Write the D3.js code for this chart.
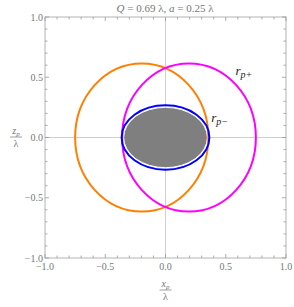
<!DOCTYPE html>
<html>
<head>
<meta charset="utf-8">
<script src="https://cdn.jsdelivr.net/npm/d3@7"></script>
<style>
  body { margin: 0; background: #fff; }
  text { font-family: "Liberation Serif", "DejaVu Serif", serif; }
</style>
</head>
<body>
<svg id="chart" width="294" height="307"></svg>
<script>
// curves: centre and half-widths in units of lambda
var curveNames  = ["rp-", "rp+", "orange"];
var curveColors = ["#0000ff", "#ff00ff", "#ff8000"];
var centerX     = [0.0, 0.195, -0.197];
var centerZ     = [0.0, 0.0, 0.0];
var radiusX     = [0.364, 0.555, 0.553];
var radiusZ     = [0.267, 0.615, 0.615];

var majorTicks  = [-1.0, -0.5, 0.0, 0.5, 1.0];
var tickLabels  = ["\u22121.0", "\u22120.5", "0.0", "0.5", "1.0"];
var minorTicks  = d3.range(-10, 11).map(function(d){ return d / 10; });

var svg = d3.select("#chart");

// plot box (window.top is reserved, so use other names)
var pLeft = 45, pRight = 286, pTop = 17, pBottom = 258;
var x = d3.scaleLinear().domain([-1, 1]).range([pLeft, pRight]);
var y = d3.scaleLinear().domain([-1, 1]).range([pBottom, pTop]);

var gray = "#999";

// center lines
svg.append("line")
   .attr("x1", x(0)).attr("x2", x(0))
   .attr("y1", pTop).attr("y2", pBottom)
   .attr("stroke", "#cfcfcf").attr("stroke-width", 1);
svg.append("line")
   .attr("x1", pLeft).attr("x2", pRight)
   .attr("y1", y(0)).attr("y2", y(0))
   .attr("stroke", "#cfcfcf").attr("stroke-width", 1);

// filled inner region
svg.append("ellipse")
   .attr("cx", x(centerX[0])).attr("cy", y(centerZ[0]))
   .attr("rx", x(radiusX[0]) - x(0) - 2)
   .attr("ry", y(0) - y(radiusZ[0]) - 2)
   .attr("fill", "#7f7f7f")
   .attr("stroke", "#fff").attr("stroke-width", 1);

// the curves, drawn back to front
var order = [2, 1, 0];
svg.selectAll("ellipse.curve").data(order)
   .enter().append("ellipse")
   .attr("class", "curve")
   .attr("cx", function(i){ return x(centerX[i]); })
   .attr("cy", function(i){ return y(centerZ[i]); })
   .attr("rx", function(i){ return x(radiusX[i]) - x(0); })
   .attr("ry", function(i){ return y(0) - y(radiusZ[i]); })
   .attr("fill", "none")
   .attr("stroke", function(i){ return curveColors[i]; })
   .attr("stroke-width", 2);

// frame
svg.append("rect")
   .attr("x", pLeft).attr("y", pTop)
   .attr("width", pRight - pLeft).attr("height", pBottom - pTop)
   .attr("fill", "none").attr("stroke", "#b3b3b3").attr("stroke-width", 1);

// ticks on all four sides, pointing inward
function tickLen(v){
  return majorTicks.some(function(m){ return Math.abs(m - v) < 1e-9; }) ? 4 : 2.5;
}
var ticks = svg.append("g").attr("stroke", gray).attr("stroke-width", 0.8);
minorTicks.forEach(function(v){
  var len = tickLen(v);
  ticks.append("line").attr("x1", x(v)).attr("x2", x(v)).attr("y1", pBottom).attr("y2", pBottom - len);
  ticks.append("line").attr("x1", x(v)).attr("x2", x(v)).attr("y1", pTop).attr("y2", pTop + len);
  ticks.append("line").attr("y1", y(v)).attr("y2", y(v)).attr("x1", pLeft).attr("x2", pLeft + len);
  ticks.append("line").attr("y1", y(v)).attr("y2", y(v)).attr("x1", pRight).attr("x2", pRight - len);
});

// tick labels
svg.selectAll("text.xt").data(majorTicks)
   .enter().append("text")
   .attr("class", "xt")
   .attr("x", function(d){ return x(d); })
   .attr("y", pBottom + 12)
   .attr("text-anchor", "middle")
   .attr("font-size", 10).attr("fill", "#777")
   .text(function(d, i){ return tickLabels[i]; });

svg.selectAll("text.yt").data(majorTicks)
   .enter().append("text")
   .attr("class", "yt")
   .attr("x", pLeft - 2)
   .attr("y", function(d){ return y(d) + 3.5; })
   .attr("text-anchor", "end")
   .attr("font-size", 10).attr("fill", "#777")
   .text(function(d, i){ return tickLabels[i]; });

// title
var title = svg.append("text")
   .attr("x", 165).attr("y", 12)
   .attr("text-anchor", "middle")
   .attr("font-size", 11).attr("fill", "#777");
title.append("tspan").attr("font-style", "italic").text("Q");
title.append("tspan").text(" = 0.69 \u03bb, ");
title.append("tspan").attr("font-style", "italic").text("a");
title.append("tspan").text(" = 0.25 \u03bb");

// axis labels as fractions
function fraction(cx, cy, letter){
  var g = svg.append("g").attr("fill", "#777");
  var t = g.append("text").attr("x", cx).attr("y", cy - 3)
           .attr("text-anchor", "middle").attr("font-size", 10);
  t.append("tspan").attr("font-style", "italic").text(letter);
  t.append("tspan").attr("font-style", "italic").attr("font-size", 7).attr("dy", 2).text("p");
  g.append("line").attr("x1", cx - 6).attr("x2", cx + 6)
   .attr("y1", cy).attr("y2", cy)
   .attr("stroke", "#777").attr("stroke-width", 0.7);
  g.append("text").attr("x", cx).attr("y", cy + 10)
   .attr("text-anchor", "middle").attr("font-size", 10).text("\u03bb");
}
fraction(x(0), 290, "x");
fraction(16, 137, "z");

// curve labels
function curveLabel(px, py, sign){
  var t = svg.append("text").attr("x", x(px)).attr("y", y(py))
             .attr("font-size", 13).attr("fill", "#222");
  t.append("tspan").attr("font-style", "italic").text("r");
  t.append("tspan").attr("font-style", "italic").attr("font-size", 10).attr("dy", 3).text("p" + sign);
}
curveLabel(0.58, 0.52, "+");
curveLabel(0.38, 0.13, "\u2212");
</script>
</body>
</html>
